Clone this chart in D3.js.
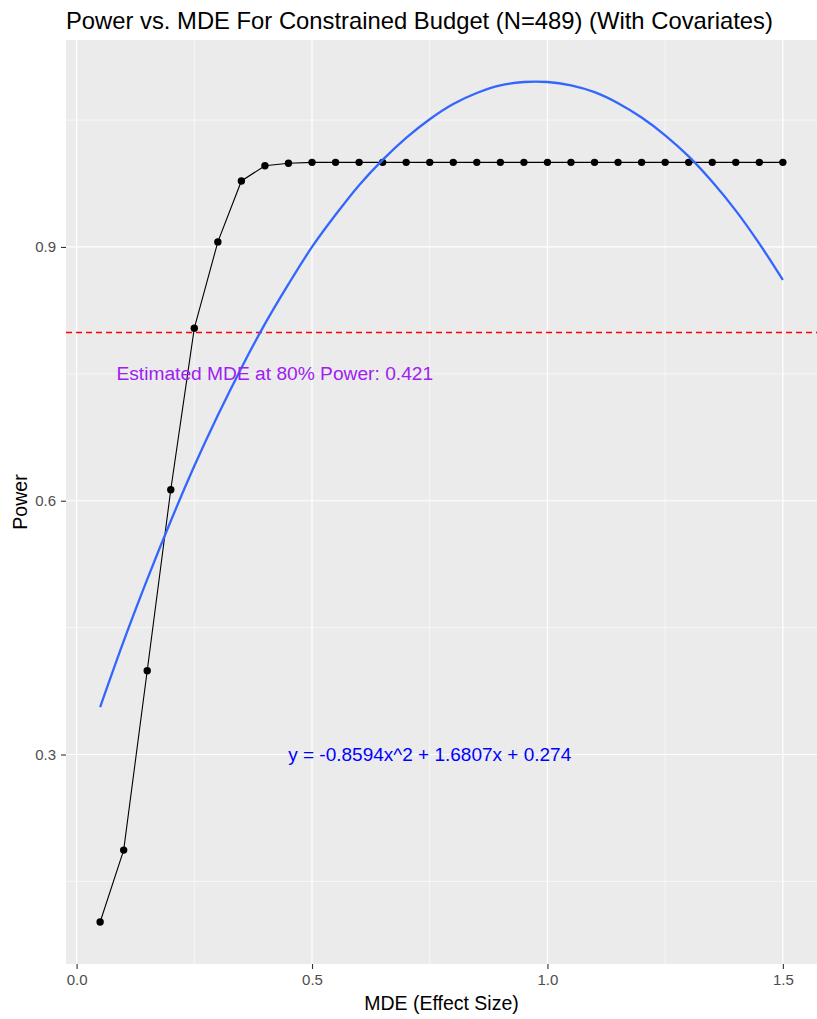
<!DOCTYPE html>
<html>
<head>
<meta charset="utf-8">
<script src="https://cdn.jsdelivr.net/npm/d3@7"></script>
<style>
  body { margin: 0; background: #fff; }
  text { font-family: "Liberation Sans", Arial, sans-serif; }
</style>
</head>
<body>
<svg id="chart"></svg>
<script>
// effect sizes tested
const mde = [0.05, 0.10, 0.15, 0.20, 0.25, 0.30, 0.35, 0.40, 0.45, 0.50,
             0.55, 0.60, 0.65, 0.70, 0.75, 0.80, 0.85, 0.90, 0.95, 1.00,
             1.05, 1.10, 1.15, 1.20, 1.25, 1.30, 1.35, 1.40, 1.45, 1.50];
// simulated power at each effect size
const power = [0.102, 0.187, 0.399, 0.613, 0.804, 0.906, 0.978, 0.996, 0.999, 1.0,
               1.0, 1.0, 1.0, 1.0, 1.0, 1.0, 1.0, 1.0, 1.0, 1.0,
               1.0, 1.0, 1.0, 1.0, 1.0, 1.0, 1.0, 1.0, 1.0, 1.0];
// quadratic smoother
const fitPower = [0.356, 0.434, 0.507, 0.576, 0.641, 0.701, 0.757, 0.809, 0.856, 0.900,
                  0.938, 0.973, 1.003, 1.029, 1.051, 1.069, 1.082, 1.091, 1.095, 1.095,
                  1.091, 1.083, 1.070, 1.053, 1.032, 1.007, 0.977, 0.943, 0.904, 0.861];

const xMajor = [0, 0.5, 1.0, 1.5];
const xMinor = [0.25, 0.75, 1.25];
const yMajor = [0.3, 0.6, 0.9];
const yMinor = [0.15, 0.45, 0.75, 1.05];

const targetPower = 0.8;
const titleText = 'Power vs. MDE For Constrained Budget (N=489) (With Covariates)';
const mdeLabel = 'Estimated MDE at 80% Power: 0.421';
const eqLabel = 'y = -0.8594x^2 + 1.6807x + 0.274';

const width = 817, height = 1019;
const panel = { left: 66, right: 817, top: 40, bottom: 964 };

const svg = d3.select('#chart').attr('width', width).attr('height', height);
svg.append('rect').attr('width', width).attr('height', height).attr('fill', '#fff');

// ggplot-style 5% expansion
function expand(ext) {
    const pad = (ext[1] - ext[0]) * 0.05;
    return [ext[0] - pad, ext[1] + pad];
}

const x = d3.scaleLinear()
    .domain(expand(d3.extent(mde)))
    .range([panel.left, panel.right]);
const y = d3.scaleLinear()
    .domain(expand(d3.extent(power.concat(fitPower))))
    .range([panel.bottom, panel.top]);

svg.append('rect')
    .attr('x', panel.left).attr('y', panel.top)
    .attr('width', panel.right - panel.left).attr('height', panel.bottom - panel.top)
    .attr('fill', '#EBEBEB');

const grid = svg.append('g').attr('stroke', '#fff');
grid.append('g').selectAll('line').data(xMinor).join('line')
    .attr('x1', (d) => x(d)).attr('x2', (d) => x(d))
    .attr('y1', panel.top).attr('y2', panel.bottom).attr('stroke-width', 0.6);
grid.append('g').selectAll('line').data(yMinor).join('line')
    .attr('y1', (d) => y(d)).attr('y2', (d) => y(d))
    .attr('x1', panel.left).attr('x2', panel.right).attr('stroke-width', 0.6);
grid.append('g').selectAll('line').data(xMajor).join('line')
    .attr('x1', (d) => x(d)).attr('x2', (d) => x(d))
    .attr('y1', panel.top).attr('y2', panel.bottom).attr('stroke-width', 1.2);
grid.append('g').selectAll('line').data(yMajor).join('line')
    .attr('y1', (d) => y(d)).attr('y2', (d) => y(d))
    .attr('x1', panel.left).attr('x2', panel.right).attr('stroke-width', 1.2);

// 80% power reference
svg.append('path')
    .attr('d', `M${panel.left},${Math.round(y(targetPower)) + 0.5}H${panel.right}`)
    .style('fill', 'none')
    .style('stroke', '#FF0000')
    .style('stroke-width', '1.6px')
    .style('stroke-dasharray', '6 4');

// power curve
const pts = mde.map((d, i) => ({ x: d, y: power[i] }));
svg.append('path')
    .datum(pts)
    .attr('fill', 'none')
    .attr('stroke', '#000')
    .attr('stroke-width', 1.1)
    .attr('d', d3.line().x((d) => x(d.x)).y((d) => y(d.y)));
svg.append('g').selectAll('circle').data(pts).join('circle')
    .attr('cx', (d) => x(d.x)).attr('cy', (d) => y(d.y))
    .attr('r', 3.7).attr('fill', '#000');

// quadratic fit
svg.append('path')
    .datum(mde.map((d, i) => ({ x: d, y: fitPower[i] })))
    .attr('fill', 'none')
    .attr('stroke', '#3366FF')
    .attr('stroke-width', 2.3)
    .attr('d', d3.line().curve(d3.curveCatmullRom).x((d) => x(d.x)).y((d) => y(d.y)));

svg.append('text')
    .attr('x', x(0.421)).attr('y', y(0.75))
    .attr('text-anchor', 'middle').attr('dominant-baseline', 'central')
    .attr('font-size', 19.2).attr('fill', '#A020F0')
    .text(mdeLabel);
svg.append('text')
    .attr('x', x(0.75)).attr('y', y(0.3))
    .attr('text-anchor', 'middle').attr('dominant-baseline', 'central')
    .attr('font-size', 19).attr('fill', '#0000FF')
    .text(eqLabel);

// axes
const xAxis = svg.append('g')
    .attr('transform', `translate(0,${panel.bottom})`)
    .call(d3.axisBottom(x).tickValues(xMajor).tickFormat(d3.format('.1f')).tickSize(5).tickPadding(5));
const yAxis = svg.append('g')
    .attr('transform', `translate(${panel.left},0)`)
    .call(d3.axisLeft(y).tickValues(yMajor).tickFormat(d3.format('.1f')).tickSize(5).tickPadding(5));
[xAxis, yAxis].forEach((g) => {
    g.select('.domain').remove();
    g.selectAll('.tick line').attr('stroke', '#333333').attr('stroke-width', 1.1);
    g.selectAll('.tick text')
        .attr('fill', '#4D4D4D')
        .attr('font-size', 15)
        .style('font-family', '"Liberation Sans", Arial, sans-serif');
});

svg.append('text')
    .attr('x', (panel.left + panel.right) / 2).attr('y', 1010)
    .attr('text-anchor', 'middle').attr('font-size', 19.5).attr('fill', '#000')
    .text('MDE (Effect Size)');
svg.append('text')
    .attr('transform', `translate(27,${(panel.top + panel.bottom) / 2}) rotate(-90)`)
    .attr('text-anchor', 'middle').attr('font-size', 19.5).attr('fill', '#000')
    .text('Power');
svg.append('text')
    .attr('x', panel.left).attr('y', 29)
    .attr('font-size', 23.8).attr('fill', '#000')
    .text(titleText);
</script>
</body>
</html>
